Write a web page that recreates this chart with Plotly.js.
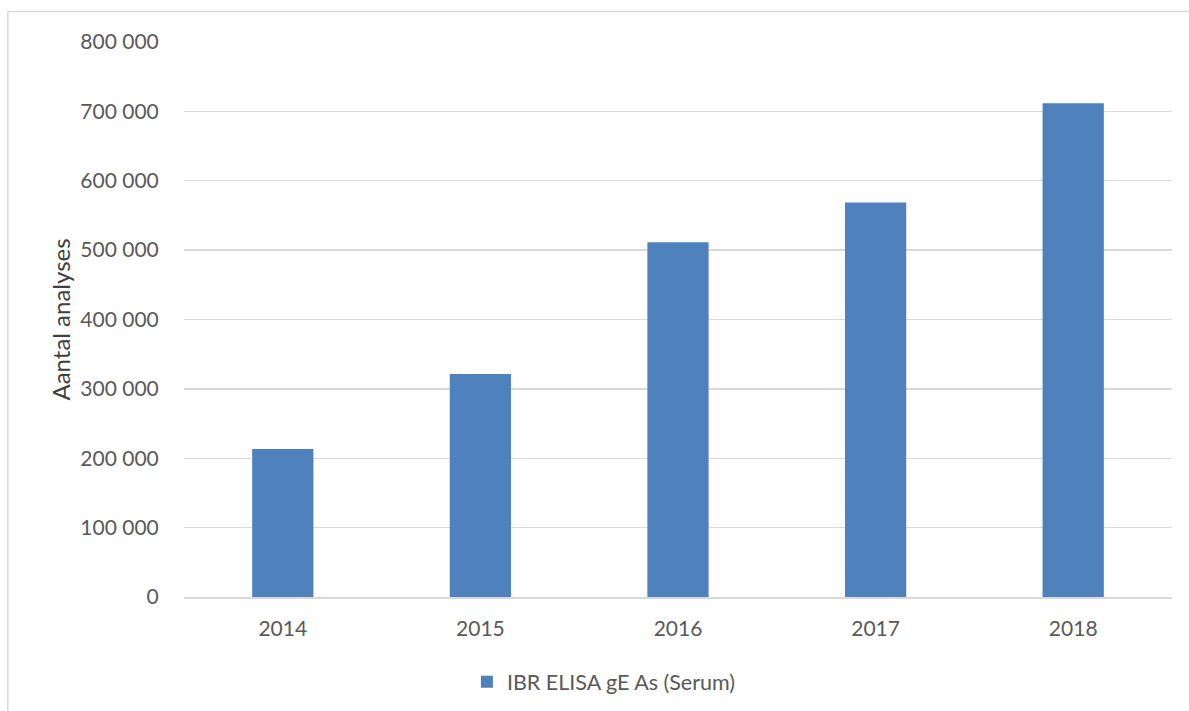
<!DOCTYPE html>
<html><head><meta charset="utf-8">
<script src="https://cdn.plot.ly/plotly-3.0.1.min.js"></script>
<style>html,body{margin:0;padding:0;background:#fff}#chart{width:1189px;height:711px}</style>
</head><body><div id="chart"></div>
<script>
const years = ['2014','2015','2016','2017','2018'];
const analyses = [213500, 321300, 511400, 568500, 711700];
const seriesName = 'IBR ELISA gE As (Serum)';
const yTickVals = [0,100000,200000,300000,400000,500000,600000,700000,800000];

const font = 'Lato, "Open Sans", sans-serif';
Plotly.newPlot('chart', [{
  type:'bar', x: years, y: analyses, name: seriesName,
  marker:{color:'#4f81bd'}, showlegend:true
}], {
  width:1189, height:711,
  margin:{l:184, r:17, t:42, b:114, autoexpand:false},
  paper_bgcolor:'#fff', plot_bgcolor:'#fff',
  separators:', ',
  bargap:0.69,
  font:{family:font, color:'#595959', size:21},
  xaxis:{type:'category', showgrid:false, showline:true, linecolor:'#d9d9d9', linewidth:1.5, automargin:false,
    ticks:'outside', ticklen:12, tickcolor:'rgba(0,0,0,0)', tickfont:{size:21, color:'#595959'}},
  yaxis:{range:[0,800000], tickvals:yTickVals, tickformat:',d', showgrid:true, gridcolor:'#d9d9d9', gridwidth:1.3,
    zeroline:false, showline:false, ticks:'outside', ticklen:20, tickcolor:'rgba(0,0,0,0)', automargin:false,
    tickfont:{size:21, color:'#595959'},
    title:{text:'Aantal analyses', font:{size:24, color:'#404040'}, standoff:2}},
  legend:{orientation:'h', x:0.425, xanchor:'center', y:-0.116, yanchor:'top', font:{size:21.5, color:'#595959'}},
  shapes:[{type:'rect', xref:'paper', yref:'paper', x0:-0.1783, x1:1.03, y0:-0.25, y1:1.055,
    line:{color:'#d9d9d9', width:1.5}, fillcolor:'rgba(0,0,0,0)', layer:'below'}]
}, {displayModeBar:false, staticPlot:true});
</script></body></html>
